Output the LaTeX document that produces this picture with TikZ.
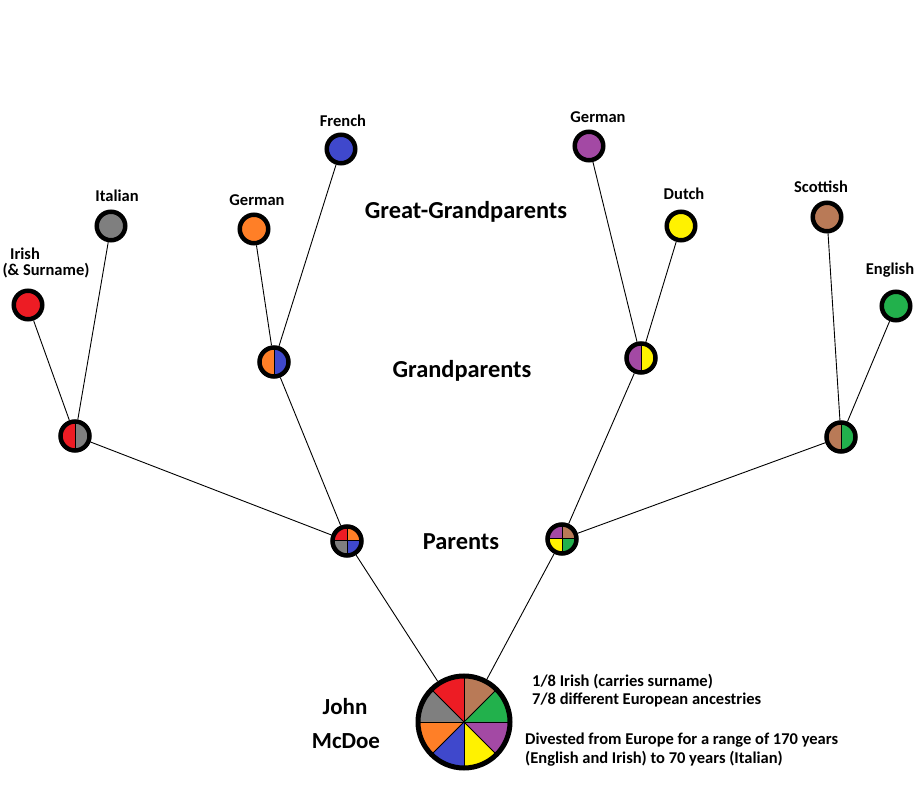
\documentclass[tikz,border=0pt]{standalone}
\usepackage{fontspec}
\setmainfont{Carlito}
\definecolor{cred}{RGB}{237,28,36}
\definecolor{cgray}{RGB}{127,127,127}
\definecolor{corange}{RGB}{255,127,39}
\definecolor{cblue}{RGB}{63,72,204}
\definecolor{cpurple}{RGB}{163,73,164}
\definecolor{cyellow}{RGB}{255,242,0}
\definecolor{cbrown}{RGB}{185,122,87}
\definecolor{cgreen}{RGB}{34,177,76}
\tikzset{
  anc/.style={circle, draw, line width=4.5pt, minimum size=28.5pt, inner sep=0pt, fill=#1},
  half/.style 2 args={circle, draw, line width=4.5pt, minimum size=29pt, inner sep=0pt,
    path picture={
      \fill[#1] (path picture bounding box.south west) rectangle (path picture bounding box.north);
      \fill[#2] (path picture bounding box.south) rectangle (path picture bounding box.north east);
      \draw[line width=1pt] (path picture bounding box.north) -- (path picture bounding box.south);}},
  quart/.style n args={4}{circle, draw, line width=4.5pt, minimum size=29pt, inner sep=0pt,
    path picture={
      \fill[#1] (path picture bounding box.west) rectangle (path picture bounding box.north);
      \fill[#2] (path picture bounding box.center) rectangle (path picture bounding box.north east);
      \fill[#3] (path picture bounding box.south west) rectangle (path picture bounding box.center);
      \fill[#4] (path picture bounding box.south) rectangle (path picture bounding box.east);
      \draw[line width=1pt] (path picture bounding box.north) -- (path picture bounding box.south)
        (path picture bounding box.west) -- (path picture bounding box.east);}},
  lbl/.style={font=\fontsize{16.5}{19}\selectfont\bfseries, inner sep=0pt},
  big/.style={font=\fontsize{24.4}{28}\selectfont\bfseries, inner sep=0pt},
  nm/.style={font=\fontsize{23}{27}\selectfont\bfseries, inner sep=0pt},
  note/.style={font=\fontsize{16.5}{19}\selectfont\bfseries, inner sep=0pt, anchor=west},
  link/.style={line width=0.9pt}
}
\begin{document}
\begin{tikzpicture}[x=1pt,y=1pt]
\useasboundingbox[fill=white] (0,0) rectangle (922,801);
% great-grandparents
\node[anc=cred] (irish) at (28,496) {};
\node[anc=cgray] (italian) at (111,575) {};
\node[anc=corange] (germanL) at (254,572) {};
\node[anc=cblue] (french) at (341,652) {};
\node[anc=cpurple] (germanR) at (589,655) {};
\node[anc=cyellow] (dutch) at (681,575) {};
\node[anc=cbrown] (scottish) at (827,584) {};
\node[anc=cgreen] (english) at (896,495) {};
% grandparents
\node[half={cred}{cgray}] (gp1) at (75,365) {};
\node[half={corange}{cblue}] (gp2) at (274,439) {};
\node[half={cpurple}{cyellow}] (gp3) at (641,443) {};
\node[half={cbrown}{cgreen}] (gp4) at (841,364) {};
% parents
\node[quart={cred}{corange}{cgray}{cblue}] (p1) at (347,260) {};
\node[quart={cpurple}{cbrown}{cyellow}{cgreen}] (p2) at (562,262) {};
% John
\node[circle, draw, line width=5pt, minimum size=92pt, inner sep=0pt,
  path picture={
    \begin{scope}[shift={(path picture bounding box.center)}]
      \fill[cgreen] (0,0) -- (0:60) arc[start angle=0,end angle=45,radius=60] -- cycle;
      \fill[cbrown] (0,0) -- (45:60) arc[start angle=45,end angle=90,radius=60] -- cycle;
      \fill[cred] (0,0) -- (90:60) arc[start angle=90,end angle=135,radius=60] -- cycle;
      \fill[cgray] (0,0) -- (135:60) arc[start angle=135,end angle=180,radius=60] -- cycle;
      \fill[corange] (0,0) -- (180:60) arc[start angle=180,end angle=225,radius=60] -- cycle;
      \fill[cblue] (0,0) -- (225:60) arc[start angle=225,end angle=270,radius=60] -- cycle;
      \fill[cyellow] (0,0) -- (270:60) arc[start angle=270,end angle=315,radius=60] -- cycle;
      \fill[cpurple] (0,0) -- (315:60) arc[start angle=315,end angle=360,radius=60] -- cycle;
      \foreach \a in {0,45,...,315} \draw[line width=0.9pt] (0,0) -- (\a:60);
    \end{scope}}] (john) at (464,79) {};
% connectors
\draw[link] (irish) -- (gp1);
\draw[link] (italian) -- (gp1);
\draw[link] (germanL) -- (gp2);
\draw[link] (french) -- (gp2);
\draw[link] (germanR) -- (gp3);
\draw[link] (dutch) -- (gp3);
\draw[link] (scottish) -- (gp4);
\draw[link] (english) -- (gp4);
\draw[link] (gp1) -- (p1);
\draw[link] (gp2) -- (p1);
\draw[link] (gp3) -- (p2);
\draw[link] (gp4) -- (p2);
\draw[link] (p1) -- (john);
\draw[link] (p2) -- (john);
% labels
\node[lbl] (tirish) at (25,547) {Irish};
\node[lbl] (tsurn) at (46,530) {(\& Surname)};
\node[lbl] (titalian) at (117,605) {Italian};
\node[lbl] (tgermanL) at (257,601) {German};
\node[lbl] (tfrench) at (343,680) {French};
\node[lbl] (tgermanR) at (598,684) {German};
\node[lbl] (tdutch) at (684,607) {Dutch};
\node[lbl] (tscottish) at (821,614) {Scottish};
\node[lbl] (tenglish) at (890,531) {English};
\node[big] (tgg) at (466,589) {Great-Grandparents};
\node[big] (tgp) at (462,430) {Grandparents};
\node[big] (tp) at (461,259) {Parents};
\node[nm] (tjohn) at (345,94) {John};
\node[nm] (tmcdoe) at (346,60) {McDoe};
\node[note] (n1) at (532,119) {1/8 Irish (carries surname)};
\node[note] (n2) at (532,101) {7/8 different European ancestries};
\node[note] (n3) at (525,61) {Divested from Europe for a range of 170 years};
\node[note] (n4) at (525,42) {(English and Irish) to 70 years (Italian)};
\end{tikzpicture}
\end{document}
